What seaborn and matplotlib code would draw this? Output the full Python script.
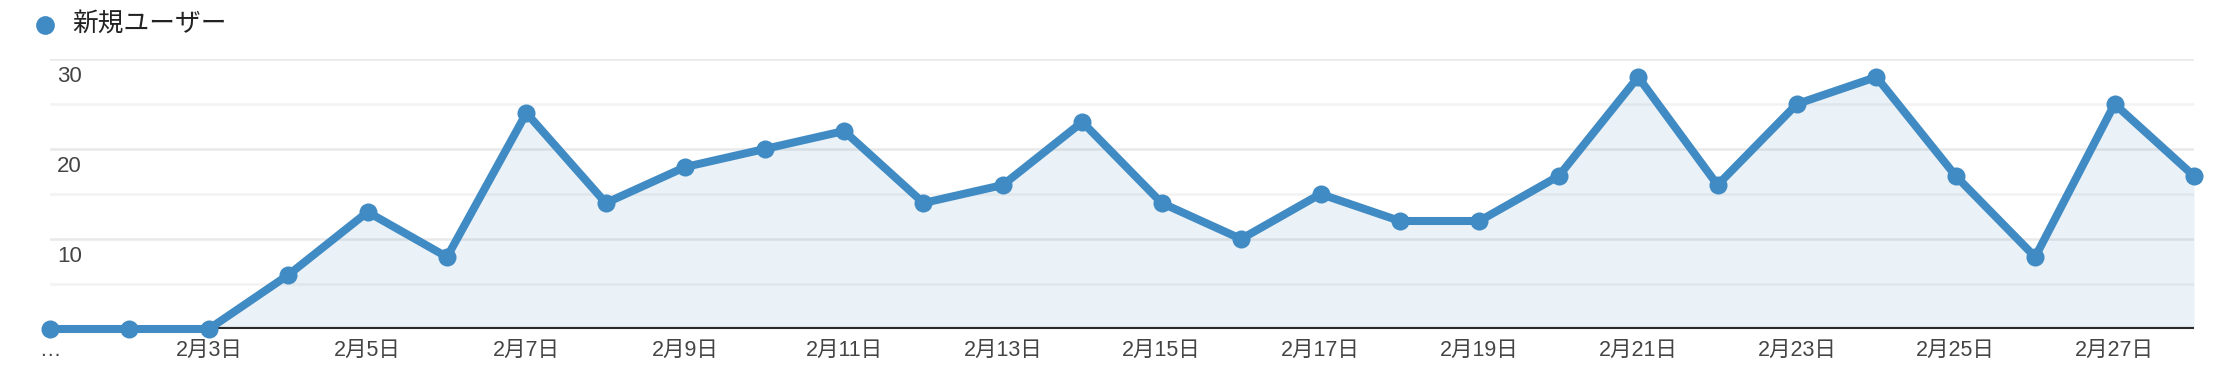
import matplotlib
matplotlib.use("Agg")
import matplotlib.pyplot as plt
from matplotlib.lines import Line2D
import seaborn as sns
import pandas as pd

# ---- data ----
days = list(range(1, 29))
new_users = [0, 0, 0, 6, 13, 8, 24, 14, 18, 20, 22, 14, 16, 23, 14, 10,
             15, 12, 12, 17, 28, 16, 25, 28, 17, 8, 25, 17]
tick_days = [1, 3, 5, 7, 9, 11, 13, 15, 17, 19, 21, 23, 25, 27]
tick_labels = ["…"] + [f"2月{d}日" for d in tick_days[1:]]
major_y = [10, 20, 30]
minor_y = [5, 15, 25]
series_name = "新規ユーザー"

df = pd.DataFrame({"day": days, "users": new_users})

# ---- style ----
sns.set_theme(style="white")
plt.rcParams["font.family"] = ["Liberation Sans", "Noto Sans CJK JP", "DejaVu Sans"]

W, H, DPI = 2234, 370, 100
BLUE = "#418bc4"

fig = plt.figure(figsize=(W / DPI, H / DPI), dpi=DPI)
ax = fig.add_axes([50 / W, 1 - 329 / H, (2194 - 50) / W, (329 - 59) / H])

# gridlines
for y in major_y:
    ax.axhline(y, color="#e9e9e9", lw=1.8, zorder=0)
for y in minor_y:
    ax.axhline(y, color="#f3f3f3", lw=1.8, zorder=0)

# area fill
ax.fill_between(df["day"], df["users"], 0, color=BLUE, alpha=0.11, lw=0, zorder=1)

# baseline
ax.axhline(0, color="#2a2a2a", lw=3.0, zorder=2)

# line + markers
sns.lineplot(data=df, x="day", y="users", ax=ax, color=BLUE, lw=5.8,
             marker="o", markersize=13, markeredgewidth=0, zorder=3,
             clip_on=False)

ax.set_xlim(days[0], days[-1])
ax.set_ylim(0, 30)
ax.set_xlabel("")
ax.set_ylabel("")
for s in ax.spines.values():
    s.set_visible(False)

ax.set_yticks([])
ax.set_xticks(tick_days)
ax.set_xticklabels(tick_labels, fontsize=15.5, color="#444444")
ax.tick_params(axis="x", length=0, pad=8)

# y labels inside the plot, just below their gridline
for y in major_y:
    ax.text(7 / (2194 - 50), y - 2.0, str(y), transform=ax.get_yaxis_transform(),
            ha="left", va="center", fontsize=16, color="#444444")

# legend
fig.add_artist(Line2D([45 / W], [1 - 25 / H], marker="o", ls="", color=BLUE,
                      markersize=13.5, markeredgewidth=0,
                      transform=fig.transFigure))
fig.text(72 / W, 1 - 25 / H, series_name, ha="left", va="center",
         fontsize=18.5, color="#222222")

fig.savefig("out.png", dpi=DPI)
